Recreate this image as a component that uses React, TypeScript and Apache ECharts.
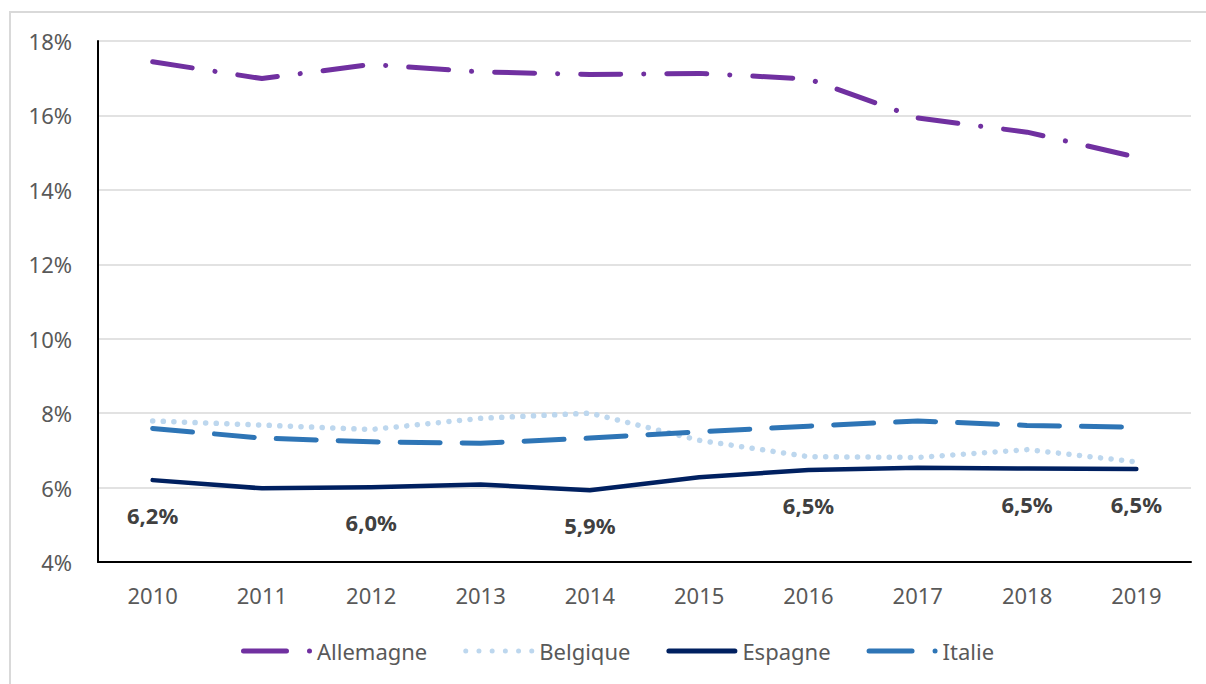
import React, { useEffect, useRef } from "react";
import * as echarts from "echarts";

const years = ["2010", "2011", "2012", "2013", "2014", "2015", "2016", "2017", "2018", "2019"];
const allemagne = [17.44, 16.99, 17.37, 17.17, 17.1, 17.13, 16.98, 15.93, 15.55, 14.88];
const belgique = [7.79, 7.68, 7.56, 7.86, 8.0, 7.27, 6.83, 6.81, 7.02, 6.69];
const espagne = [6.2, 5.98, 6.01, 6.08, 5.93, 6.28, 6.47, 6.53, 6.51, 6.5];
const italie = [7.59, 7.33, 7.23, 7.19, 7.33, 7.5, 7.65, 7.79, 7.67, 7.62];
const espagneLabelYears = ["2010", "2012", "2014", "2016", "2018", "2019"];
const yTicks = { min: 4, max: 18, interval: 2 };

const FONT = "'Noto Sans', 'Open Sans', sans-serif";

const ICON_DASH_DOT =
  "path://M2.5,0 L45.5,0 A2.5,2.5 0 0 1 45.5,5 L2.5,5 A2.5,2.5 0 0 1 2.5,0 Z M68.5,0 A2.5,2.5 0 1 1 68.5,5 A2.5,2.5 0 1 1 68.5,0 Z";
const ICON_SOLID = "path://M2.5,0 L68.5,0 A2.5,2.5 0 0 1 68.5,5 L2.5,5 A2.5,2.5 0 0 1 2.5,0 Z";
const ICON_DOTS =
  "path://" +
  [2.5, 15.7, 28.9, 42.1, 55.3, 68.5]
    .map((cx) => `M${cx},0 A2.5,2.5 0 1 1 ${cx},5 A2.5,2.5 0 1 1 ${cx},0 Z`)
    .join(" ");

export default function App() {
  const ref = useRef<HTMLDivElement>(null);
  useEffect(() => {
    if (!ref.current) return;
    const chart = echarts.init(ref.current, undefined, { renderer: "svg" });
    chart.setOption({
      animation: false,
      backgroundColor: "#ffffff",
      textStyle: { fontFamily: FONT },
      graphic: [
        {
          type: "rect",
          shape: { x: 10, y: 12, width: 1200, height: 680 },
          style: { fill: "none", stroke: "#D9D9D9", lineWidth: 2 },
          silent: true,
        },
      ],
      grid: { left: 98, right: 15, top: 41, bottom: 122, containLabel: false },
      legend: {
        top: 635,
        left: 236,
        itemWidth: 71,
        itemHeight: 5,
        itemGap: 36,
        textStyle: { fontSize: 22, color: "#595959", fontFamily: FONT },
        data: [
          { name: "Allemagne", icon: ICON_DASH_DOT },
          { name: "Belgique", icon: ICON_DOTS },
          { name: "Espagne", icon: ICON_SOLID },
          { name: "Italie", icon: ICON_DASH_DOT },
        ],
      },
      xAxis: {
        type: "category",
        data: years,
        boundaryGap: true,
        axisLine: { lineStyle: { color: "#000000", width: 2 } },
        axisTick: { show: false },
        axisLabel: { fontSize: 22, color: "#595959", margin: 22, fontFamily: FONT },
        splitLine: { show: false },
      },
      yAxis: {
        type: "value",
        min: yTicks.min,
        max: yTicks.max,
        interval: yTicks.interval,
        axisLine: { show: true, lineStyle: { color: "#000000", width: 2 } },
        axisTick: { show: false },
        axisLabel: {
          fontSize: 22,
          color: "#595959",
          margin: 26,
          fontFamily: FONT,
          formatter: (v: number) => `${v}%`,
        },
        splitLine: { show: true, lineStyle: { color: "#D9D9D9", width: 1.5 } },
      },
      series: [
        {
          name: "Allemagne",
          type: "line",
          data: allemagne,
          symbol: "none",
          z: 4,
          lineStyle: { color: "#7030A0", width: 5, type: [40, 23, 0.1, 23], cap: "round", join: "round" },
          itemStyle: { color: "#7030A0" },
        },
        {
          name: "Belgique",
          type: "line",
          data: belgique,
          symbol: "none",
          z: 2,
          lineStyle: { color: "#BDD7EE", width: 5.5, type: [0.1, 10.5], cap: "round" },
          itemStyle: { color: "#BDD7EE" },
        },
        {
          name: "Espagne",
          type: "line",
          data: espagne,
          symbol: "none",
          z: 3,
          lineStyle: { color: "#002060", width: 4.5, cap: "round", join: "round" },
          itemStyle: { color: "#002060" },
          label: { show: false },
          markPoint: {
            symbol: "circle",
            symbolSize: 0,
            silent: true,
            label: {
              show: true,
              position: "bottom",
              distance: 24,
              fontSize: 22,
              fontWeight: "bold",
              color: "#404040",
              fontFamily: FONT,
              formatter: (p: any) => `${Number(p.value).toFixed(1).replace(".", ",")}%`,
            },
            data: espagneLabelYears.map((y) => {
              const i = years.indexOf(y);
              return { coord: [y, espagne[i]], value: espagne[i] };
            }),
          },
        },
        {
          name: "Italie",
          type: "line",
          data: italie,
          symbol: "none",
          z: 3,
          lineStyle: { color: "#2E75B6", width: 5, type: [40, 22], cap: "round", join: "round" },
          itemStyle: { color: "#2E75B6" },
        },
      ],
    });
    return () => chart.dispose();
  }, []);
  return (
    <div style={{ position: "fixed", left: 0, top: 0, width: 1206, height: 684, background: "#fff" }}>
      <div ref={ref} style={{ width: 1206, height: 684 }} />
    </div>
  );
}
